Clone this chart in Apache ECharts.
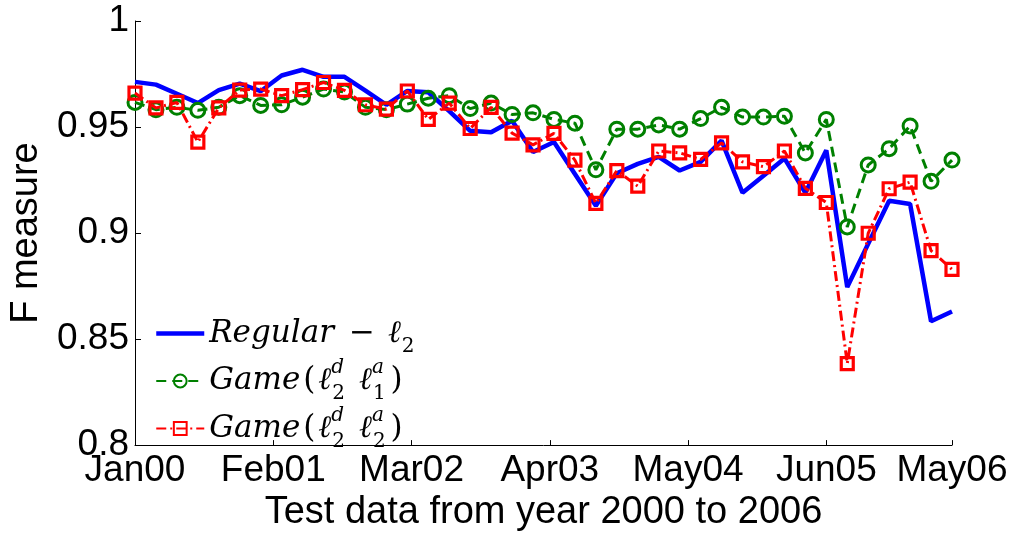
<!DOCTYPE html>
<html>
<head>
<meta charset="utf-8">
<script src="https://cdn.jsdelivr.net/npm/echarts@6/dist/echarts.min.js"></script>
<style>
  html, body { margin: 0; padding: 0; background: #fff; }
  #chart { width: 1016px; height: 537px; }
</style>
</head>
<body>
<div id="chart"></div>
<script>
// Tick labels along the test period (bi-monthly test sets, index 0..39)
const tickLabels = ['Jan00', 'Feb01', 'Mar02', 'Apr03', 'May04', 'Jun05', 'May06'];

// F measure per test set
const regularL2 = [
  0.9713, 0.9700, 0.9657, 0.9613, 0.9674, 0.9705, 0.9669, 0.9743, 0.9770, 0.9737,
  0.9737, 0.9672, 0.9605, 0.9670, 0.9664, 0.9575, 0.9482, 0.9475, 0.9530, 0.9382,
  0.9429, 0.9279, 0.9129, 0.9282, 0.9326, 0.9359, 0.9295, 0.9336, 0.9436, 0.9190,
  0.9270, 0.9352, 0.9190, 0.9390, 0.8745, 0.8950, 0.9152, 0.9137, 0.8584, 0.8630
];
const gameL2L1 = [
  0.9616, 0.9582, 0.9593, 0.9579, 0.9593, 0.9648, 0.9602, 0.9605, 0.9641, 0.9679,
  0.9665, 0.9593, 0.9582, 0.9608, 0.9636, 0.9648, 0.9587, 0.9613, 0.9559, 0.9567,
  0.9536, 0.9518, 0.9298, 0.9490, 0.9490, 0.9510, 0.9490, 0.9540, 0.9593, 0.9547,
  0.9547, 0.9551, 0.9378, 0.9536, 0.9029, 0.9321, 0.9398, 0.9505, 0.9244, 0.9344
];
const gameL2L2 = [
  0.9660, 0.9590, 0.9616, 0.9429, 0.9590, 0.9674, 0.9679, 0.9648, 0.9676, 0.9710,
  0.9673, 0.9605, 0.9584, 0.9670, 0.9536, 0.9613, 0.9493, 0.9593, 0.9471, 0.9416,
  0.9470, 0.9344, 0.9140, 0.9294, 0.9221, 0.9387, 0.9378, 0.9347, 0.9425, 0.9336,
  0.9313, 0.9387, 0.9211, 0.9144, 0.8384, 0.8999, 0.9209, 0.9240, 0.8917, 0.8829
];

const seriesNames = ['Regular-l2', 'Game(l2d l1a)', 'Game(l2d l2a)'];
// Math-style legend labels: superscript tokens have zero advance so the
// subscript that follows sits directly underneath them.
const legendLabels = {
  'Regular-l2': '{it|Regular}{gap| }{rm|\u2212}{gap2| }{it|\u2113}{sub|2}',
  'Game(l2d l1a)': '{it|Game}{rm|(}{it|\u2113}{sup|d}{sub|2}{gap| }{it|\u2113}{sup|a}{sub|1}{rm|)}',
  'Game(l2d l2a)': '{it|Game}{rm|(}{it|\u2113}{sup|d}{sub|2}{gap| }{it|\u2113}{sup|a}{sub|2}{rm|)}'
};

const toPoints = arr => arr.map((v, i) => [i, v]);
const sansFont = 'Liberation Sans, Arial, Helvetica, sans-serif';
const serifFont = 'DejaVu Serif, serif';
const tickStep = 6.6;

const chart = echarts.init(document.getElementById('chart'), null, { renderer: 'canvas' });
chart.setOption({
  animation: false,
  backgroundColor: '#fff',
  grid: { left: 133, right: 64, top: 21, bottom: 82, containLabel: false },
  xAxis: {
    type: 'value',
    min: 0,
    max: regularL2.length - 1,
    interval: tickStep,
    name: 'Test data from year 2000 to 2006',
    nameLocation: 'middle',
    nameGap: 48,
    nameTextStyle: { fontFamily: sansFont, fontSize: 38, color: '#000' },
    axisLine: { show: true, lineStyle: { color: '#000', width: 1 } },
    axisTick: { show: true, inside: true, length: 5, lineStyle: { color: '#000' } },
    splitLine: { show: false },
    axisLabel: {
      fontFamily: sansFont, fontSize: 37, color: '#000', margin: 7,
      formatter: v => tickLabels[Math.min(Math.round(v / tickStep), tickLabels.length - 1)]
    }
  },
  yAxis: {
    type: 'value',
    min: 0.8,
    max: 1,
    interval: 0.05,
    name: 'F measure',
    nameLocation: 'middle',
    nameGap: 89,
    nameTextStyle: { fontFamily: sansFont, fontSize: 38, color: '#000' },
    axisLine: { show: true, lineStyle: { color: '#000', width: 1 } },
    axisTick: { show: true, inside: true, length: 6, lineStyle: { color: '#000' } },
    splitLine: { show: false },
    axisLabel: { fontFamily: sansFont, fontSize: 37, color: '#000', margin: 6 }
  },
  legend: {
    orient: 'vertical',
    left: 149,
    top: 313,
    itemGap: 1.5,
    itemWidth: 48,
    itemHeight: 16,
    data: [
      { name: seriesNames[0], itemStyle: { opacity: 0 }, lineStyle: { width: 4.5 } },
      { name: seriesNames[1] },
      { name: seriesNames[2] }
    ],
    formatter: name => legendLabels[name],
    textStyle: {
      color: '#000',
      rich: {
        it: { fontFamily: serifFont, fontStyle: 'italic', fontSize: 31, lineHeight: 46, color: '#000' },
        rm: { fontFamily: serifFont, fontSize: 31, lineHeight: 46, color: '#000', padding: [0, 3, 0, 3] },
        gap: { fontSize: 10, width: 12 },
        gap2: { fontSize: 10, width: 10 },
        sup: { fontFamily: serifFont, fontStyle: 'italic', fontSize: 20, lineHeight: 19, width: 0, verticalAlign: 'top', color: '#000' },
        sub: { fontFamily: serifFont, fontSize: 20, lineHeight: 19, verticalAlign: 'bottom', color: '#000', padding: [0, 2, 0, 1] }
      }
    }
  },
  series: [
    {
      name: seriesNames[0],
      type: 'line',
      data: toPoints(regularL2),
      showSymbol: false,
      symbol: 'circle',
      lineStyle: { color: '#0000ff', width: 4.5 },
      itemStyle: { color: '#0000ff' },
      z: 2
    },
    {
      name: seriesNames[1],
      type: 'line',
      data: toPoints(gameL2L1),
      symbol: 'circle',
      symbolSize: 14,
      lineStyle: { color: '#008000', width: 3, type: [10, 6] },
      itemStyle: { color: 'transparent', borderColor: '#008000', borderWidth: 3 },
      z: 3
    },
    {
      name: seriesNames[2],
      type: 'line',
      data: toPoints(gameL2L2),
      symbol: 'rect',
      symbolSize: 12,
      lineStyle: { color: '#ff0000', width: 3, type: [10, 4, 2, 4] },
      itemStyle: { color: 'transparent', borderColor: '#ff0000', borderWidth: 3.2 },
      z: 4
    }
  ]
});
</script>
</body>
</html>
